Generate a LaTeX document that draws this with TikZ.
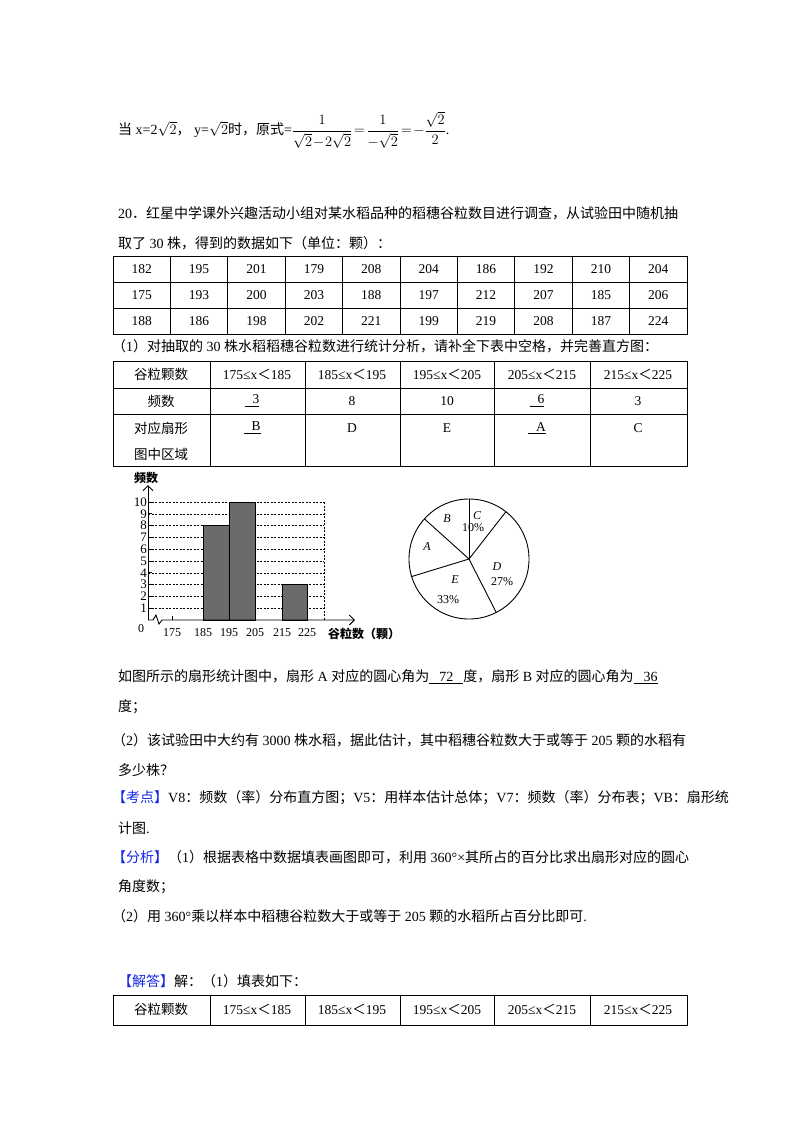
\documentclass[tikz,border=0pt]{standalone}
\usepackage{amsmath}
\usepackage{fontspec}
\setmainfont{Liberation Serif}
\newfontfamily\cjk{Noto Sans CJK SC}[Scale=1.0]
\usetikzlibrary{arrows.meta}
\definecolor{hdblue}{RGB}{20,40,230}
\tikzset{
  txt/.style={anchor=west,inner sep=0pt,font=\fontsize{14}{16}\selectfont},
  cell/.style={inner sep=0pt,font=\fontsize{13.5}{16}\selectfont,align=center},
  tbl/.style={line width=0.9pt},
  grid/.style={dashed,line width=0.6pt,dash pattern=on 2pt off 1.5pt},
  bar/.style={fill=black!58,draw=black,line width=0.9pt},
  pl/.style={font=\itshape\fontsize{12}{14}\selectfont,inner sep=0pt},
}
\newcommand{\C}[1]{{\cjk #1}}
\newcommand{\B}[1]{{\color{hdblue}\cjk #1}}
\begin{document}
\begin{tikzpicture}[x=1pt,y=-1pt]
\useasboundingbox (0,0) rectangle (800,1132);
% line 1
\node[txt] (l1) at (118,130) {\C{当} x=2$\sqrt{2}$\C{，} y=$\sqrt{2}$\C{时，原式}=$\dfrac{1}{\sqrt{2}\!-\!2\sqrt{2}}\!=\!\dfrac{1}{-\sqrt{2}}\!=\!-\dfrac{\sqrt{2}}{2}$.};
\node[txt] (l2) at (118,213) {20\C{．红星中学课外兴趣活动小组对某水稻品种的稻穗谷粒数目进行调查，从试验田中随机抽}};
\node[txt] (l3) at (118,243) {\C{取了} 30 \C{株，得到的数据如下（单位：颗）：}};
% table 1
\draw[tbl] (113,256) rectangle (687,334);
\foreach \y in {282,308} \draw[tbl] (113,\y) -- (687,\y);
\foreach \i in {1,...,9} \draw[tbl] ({113+57.4*\i},256) -- ({113+57.4*\i},334);
\foreach \v [count=\i from 0] in {182,195,201,179,208,204,186,192,210,204}
  \node[cell] (ta\i) at ({141.7+57.4*\i},269) {\v};
\foreach \v [count=\i from 0] in {175,193,200,203,188,197,212,207,185,206}
  \node[cell] (tb\i) at ({141.7+57.4*\i},295) {\v};
\foreach \v [count=\i from 0] in {188,186,198,202,221,199,219,208,187,224}
  \node[cell] (tc\i) at ({141.7+57.4*\i},321) {\v};
\node[txt] (l4) at (112,346) {\C{（}1\C{）对抽取的} 30 \C{株水稻稻穗谷粒数进行统计分析，请补全下表中空格，并完善直方图：}};
% table 2
\draw[tbl] (113,361) rectangle (687,466);
\foreach \y in {388,414} \draw[tbl] (113,\y) -- (687,\y);
\foreach \x in {210,305,400,494,590} \draw[tbl] (\x,361) -- (\x,466);
\node[cell] (h0) at (161,374) {\C{谷粒颗数}};
\node[cell] (h1) at (257,374) {175≤x\C{＜}185};
\node[cell] (h2) at (352,374) {185≤x\C{＜}195};
\node[cell] (h3) at (447,374) {195≤x\C{＜}205};
\node[cell] (h4) at (542,374) {205≤x\C{＜}215};
\node[cell] (h5) at (638,374) {215≤x\C{＜}225};
\node[cell] (f0) at (161,401) {\C{频数}};
\node[cell] (f1) at (252,401) {\underline{\hspace{8pt}3}};
\node[cell] (f2) at (352,401) {8};
\node[cell] (f3) at (447,401) {10};
\node[cell] (f4) at (537,401) {\underline{\hspace{8pt}6}};
\node[cell] (f5) at (638,401) {3};
\node[cell] (r0a) at (161,428) {\C{对应扇形}};
\node[cell] (r0b) at (161,454) {\C{图中区域}};
\node[cell] (r1) at (252,428) {\underline{\hspace{8pt}B}};
\node[cell] (r2) at (352,428) {D};
\node[cell] (r3) at (447,428) {E};
\node[cell] (r4) at (537,428) {\underline{\hspace{8pt}A}};
\node[cell] (r5) at (638,428) {C};
% histogram
\foreach \k in {1,...,10} {
  \draw[grid] (148,{620-11.8*\k}) -- (324,{620-11.8*\k});
  \draw[line width=0.8pt] (148,{620-11.8*\k}) -- (152,{620-11.8*\k});
}
\draw[grid] (324,502) -- (324,620);
\draw[bar] (203,{620-11.8*8}) rectangle (229,620);
\draw[bar] (229,{620-11.8*10}) rectangle (255,620);
\draw[bar] (282,{620-11.8*3}) rectangle (307,620);
\coordinate (o) at (148,620);
\coordinate (ytop) at (148,485);
\coordinate (xend) at (355,620);
\draw[line width=0.9pt,-{Straight Barb[length=5pt]}] (o) -- (ytop);
\draw[line width=0.9pt,-{Straight Barb[length=5pt]}] (o) -- (153,620) -- (156,615) -- (159,624) -- (162,620) -- (xend);
\draw[line width=0.8pt] (172,620) -- (172,616);
\node[font=\fontsize{12}{14}\selectfont\bfseries\cjk,inner sep=0pt] (ylab) at (146,478) {频数};
\foreach \k in {1,...,10}
  \node[font=\fontsize{13}{14}\selectfont,inner sep=0pt,anchor=east] (yl\k) at (147,{620-11.8*\k}) {\k};
\node[font=\fontsize{12}{14}\selectfont,inner sep=0pt] (zero) at (141,629) {0};
\foreach \v/\x in {175/172,185/203,195/229,205/255,215/282,225/307}
  \node[font=\fontsize{12}{14}\selectfont,inner sep=0pt] (xl\v) at (\x,633) {\v};
\node[font=\fontsize{12}{14}\selectfont\bfseries,inner sep=0pt,anchor=west] (xlab) at (328,634) {\C{谷粒数（颗）}};
% pie
\coordinate (pc) at (469,559);
\draw[line width=0.9pt] (pc) circle (60);
\foreach \a in {90,52,-63,-163,138} \draw[line width=0.9pt] (pc) -- ++(\a:60 and -60);
\node[pl] (pB) at (447,519) {B};
\node[pl] (pC) at (477,516) {C};
\node[pl,font=\fontsize{12}{14}\selectfont] (pCp) at (473,528) {10\%};
\node[pl] (pA) at (427,547) {A};
\node[pl] (pD) at (497,567) {D};
\node[pl,font=\fontsize{12}{14}\selectfont] (pDp) at (502,582) {27\%};
\node[pl] (pE) at (455,580) {E};
\node[pl,font=\fontsize{12}{14}\selectfont] (pEp) at (448,600) {33\%};
% text below
\node[txt] (l5) at (118,677) {\C{如图所示的扇形统计图中，扇形} A \C{对应的圆心角为}\underline{\hspace{10pt}72\hspace{10pt}}\C{度，扇形} B \C{对应的圆心角为}\underline{\hspace{10pt}36}};
\node[txt] (l6) at (118,707) {\C{度；}};
\node[txt] (l7) at (112,740) {\C{（}2\C{）该试验田中大约有} 3000 \C{株水稻，据此估计，其中稻穗谷粒数大于或等于} 205 \C{颗的水稻有}};
\node[txt] (l8) at (118,770) {\C{多少株？}};
\node[txt] (l9) at (112,798) {\B{【考点】}V8\C{：频数（率）分布直方图；}V5\C{：用样本估计总体；}V7\C{：频数（率）分布表；}VB\C{：扇形统}};
\node[txt] (l10) at (118,828) {\C{计图}.};
\node[txt] (l11) at (112,857) {\B{【分析】}\C{（}1\C{）根据表格中数据填表画图即可，利用} 360°×\C{其所占的百分比求出扇形对应的圆心}};
\node[txt] (l12) at (118,887) {\C{角度数；}};
\node[txt] (l13) at (112,916) {\C{（}2\C{）用} 360°\C{乘以样本中稻穗谷粒数大于或等于} 205 \C{颗的水稻所占百分比即可}.};
\node[txt] (l14) at (118,981) {\B{【解答】}\C{解：（}1\C{）填表如下：}};
% table 3
\draw[tbl] (113,995) rectangle (687,1025);
\foreach \x in {210,305,400,494,590} \draw[tbl] (\x,995) -- (\x,1025);
\node[cell] (g0) at (161,1009) {\C{谷粒颗数}};
\node[cell] (g1) at (257,1009) {175≤x\C{＜}185};
\node[cell] (g2) at (352,1009) {185≤x\C{＜}195};
\node[cell] (g3) at (447,1009) {195≤x\C{＜}205};
\node[cell] (g4) at (542,1009) {205≤x\C{＜}215};
\node[cell] (g5) at (638,1009) {215≤x\C{＜}225};
\end{tikzpicture}
\end{document}
